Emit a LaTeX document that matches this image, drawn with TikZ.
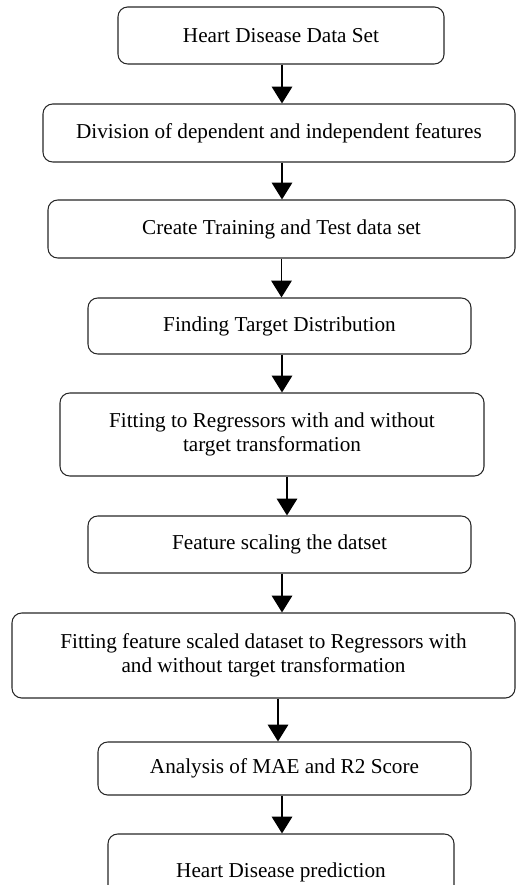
\documentclass[tikz,border=0pt]{standalone}
\usepackage{fontspec}
\setmainfont{Liberation Serif}
\usetikzlibrary{arrows.meta}

\begin{document}
\begin{tikzpicture}[x=0.566pt, y=-0.566pt, >={Triangle[width=11.5pt,length=9.5pt]}, font=\fontsize{12}{13.5}\selectfont, line join=round,
	box/.style={draw=black!85, line width=0.6pt, rounded corners=5.5pt, align=center, inner sep=0pt},
	flow/.style={->, line width=1.1pt}]
	\def\u{0.566pt}
	\useasboundingbox (0,0) rectangle (516,885);
	\clip (0,0) rectangle (516,885);
	% steps, top to bottom
	\node[box, minimum width=326*\u, minimum height=57*\u] (data) at (281,35.5) {Heart Disease Data Set};
	\node[box, minimum width=472*\u, minimum height=58*\u] (divide) at (279,133) {Division of dependent and independent features};
	\node[box, minimum width=467*\u, minimum height=58*\u] (split) at (281.5,229) {Create Training and Test data set};
	\node[box, minimum width=383*\u, minimum height=56*\u] (target) at (279.5,326) {Finding Target Distribution};
	\node[box, minimum width=424*\u, minimum height=83*\u] (fitraw) at (272,434.5) {Fitting to Regressors with and without\\target transformation};
	\node[box, minimum width=383*\u, minimum height=57*\u] (scale) at (279.5,544.5) {Feature scaling the datset};
	\node[box, minimum width=503*\u, minimum height=85*\u] (fitscaled) at (263.5,655.5) {Fitting feature scaled dataset to Regressors with\\and without target transformation};
	\node[box, minimum width=373*\u, minimum height=53*\u] (analysis) at (284.5,768.5) {Analysis of MAE and R2 Score};
	\node[box, minimum width=346*\u, minimum height=76*\u] (predict) at (281,872) {Heart Disease prediction};
	% arrows
	\foreach \a/\b/\s in {data/divide/1, divide/split/3, split/target/0, target/fitraw/2.5, fitraw/scale/15, scale/fitscaled/2.5, fitscaled/analysis/14.5, analysis/predict/-2.5}
		\draw[flow] ([xshift=\s*\u]\a.south) -- ([xshift=\s*\u]\a.south |- \b.north);
\end{tikzpicture}
\end{document}
